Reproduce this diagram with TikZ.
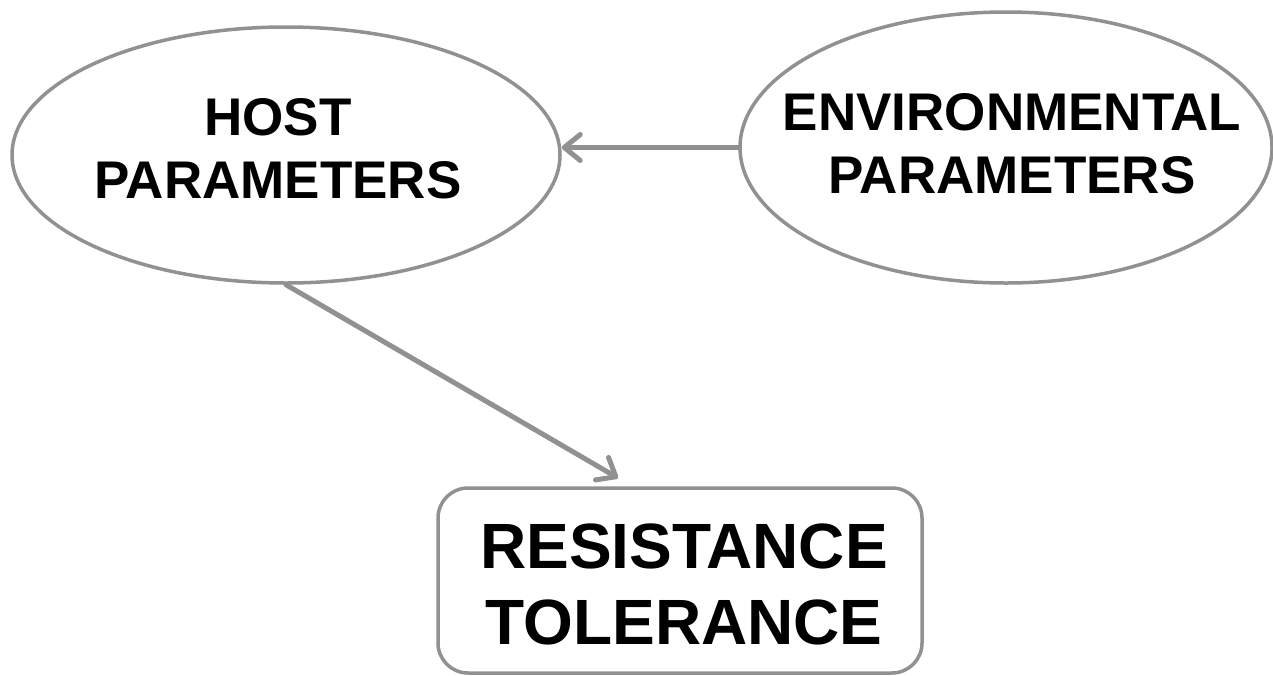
\documentclass[tikz,border=0pt]{standalone}
\usepackage{fontspec}
\setmainfont{Liberation Sans}
\usetikzlibrary{shapes.geometric,arrows.meta}
\definecolor{edgegray}{RGB}{145,145,145}
\tikzset{
  outline/.style={draw=edgegray, line width=3.5pt},
  bubble/.style={outline, ellipse, inner sep=0pt},
  result/.style={outline, rectangle, rounded corners=30pt, inner sep=0pt},
  caption/.style={inner sep=0pt, align=center, font=\bfseries\fontsize{53}{63}\selectfont},
  bigcaption/.style={inner sep=0pt, align=center, font=\bfseries\fontsize{64}{76}\selectfont},
  link/.style={draw=edgegray, line width=5pt, line cap=round,
    -{Straight Barb[length=16pt, width=26pt, line width=5pt, line cap=round, line join=round]}}
}
\begin{document}
\begin{tikzpicture}[x=1pt, y=-1pt]
  \useasboundingbox (0,0) rectangle (1273,675);
  % outlines
  \node[bubble, minimum width=548pt, minimum height=256pt] (host) at (286,155) {};
  \node[bubble, minimum width=532pt, minimum height=271pt] (env) at (1006,147.5) {};
  \node[result, minimum width=484pt, minimum height=185pt] (res) at (680,580.5) {};
  % labels
  \node[caption] (hostlabel) at (278,149) {HOST\\PARAMETERS};
  \node[caption] (envlabel) at (1012,144) {ENVIRONMENTAL\\PARAMETERS};
  \node[bigcaption] (reslabel) at (684,584) {RESISTANCE\\TOLERANCE};
  % connectors
  \coordinate (restip) at (618,478);
  \draw[link] (env.west) -- (host.east |- env.west);
  \draw[link] (host.south) -- (restip);
\end{tikzpicture}
\end{document}
